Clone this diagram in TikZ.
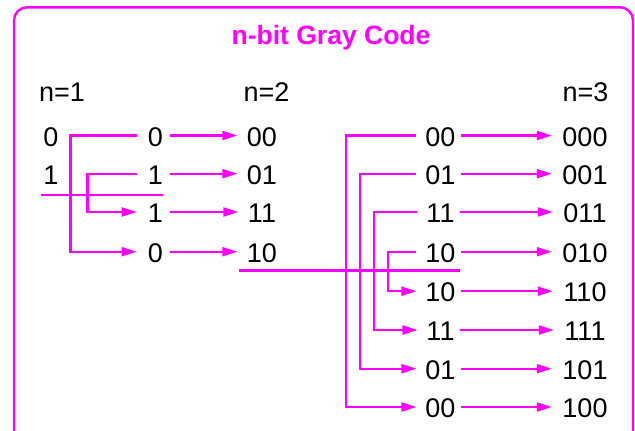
\documentclass[tikz,border=0pt]{standalone}
\usepackage{fontspec}
\setmainfont{Liberation Sans}
\usetikzlibrary{arrows.meta}
\definecolor{mag}{HTML}{FF00FF}
\begin{document}
\begin{tikzpicture}[x=1pt,y=-1pt,
  txt/.style={inner sep=0pt, font=\fontsize{27}{31}\selectfont, text=black},
  titlestyle/.style={inner sep=0pt, anchor=base, font=\fontsize{26.5}{30}\selectfont\bfseries, text=mag},
  conn/.style={draw=mag, line width=2.1pt},
  arr/.style={conn, -{Triangle[length=15pt,width=9pt]}},
  frame/.style={draw=mag, line width=2.4pt, rounded corners=13pt}]
\useasboundingbox (0,0) rectangle (635,431);
\clip (0,0) rectangle (635,431);
\draw[frame] (14,7.3) rectangle (633,460);
\node[titlestyle] (title) at (331,44.7) {n-bit Gray Code};
\node[txt] (n1) at (62,92.5) {n=1};
\node[txt] (n2) at (266.5,92.5) {n=2};
\node[txt] (n3) at (585.5,92.5) {n=3};
% column 1
\node[txt] (a0) at (51,136.8) {0};
\node[txt] (a1) at (51,175) {1};
% middle column 2
\node[txt] (b0) at (155.5,136.8) {0};
\node[txt] (b1) at (155.5,175) {1};
\node[txt] (b2) at (155.5,213.3) {1};
\node[txt] (b3) at (155.5,253) {0};
% column n=2
\node[txt] (c0) at (262,136.8) {00};
\node[txt] (c1) at (262,175) {01};
\node[txt] (c2) at (262,213.3) {11};
\node[txt] (c3) at (262,253) {10};
% middle column 3
\node[txt] (d0) at (440.5,136.8) {00};
\node[txt] (d1) at (440.5,175) {01};
\node[txt] (d2) at (440.5,213.3) {11};
\node[txt] (d3) at (440.5,253) {10};
\node[txt] (d4) at (440.5,292.5) {10};
\node[txt] (d5) at (440.5,331.3) {11};
\node[txt] (d6) at (440.5,370) {01};
\node[txt] (d7) at (440.5,408.3) {00};
% column n=3
\node[txt] (e0) at (585,136.8) {000};
\node[txt] (e1) at (585,175) {001};
\node[txt] (e2) at (585,213.3) {011};
\node[txt] (e3) at (585,253) {010};
\node[txt] (e4) at (585,292.5) {110};
\node[txt] (e5) at (585,331.3) {111};
\node[txt] (e6) at (585,370) {101};
\node[txt] (e7) at (585,408.3) {100};
% separators
\coordinate (u1a) at (40.7,195);
\coordinate (u1b) at (163,195);
\coordinate (u2a) at (239,270.5);
\coordinate (u2b) at (460,270.5);
\draw[conn] (u1a) -- (u1b);
\draw[conn] (u2a) -- (u2b);
% reflection brackets, n=2
\draw[arr] ([xshift=-11.2pt,yshift=1.3pt]b0.west) -- ++(-66.1,0) |- ([xshift=-11.2pt,yshift=1.3pt]b3.west);
\draw[arr] ([xshift=-11.2pt,yshift=1.3pt]b1.west) -- ++(-49.1,0) |- ([xshift=-11.2pt,yshift=1.3pt]b2.west);
% reflection brackets, n=3
\draw[arr] ([xshift=-8.8pt,yshift=1.3pt]d0.west) -- ++(-70.7,0) |- ([xshift=-8.8pt,yshift=1.3pt]d7.west);
\draw[arr] ([xshift=-8.8pt,yshift=1.3pt]d1.west) -- ++(-56.7,0) |- ([xshift=-8.8pt,yshift=1.3pt]d6.west);
\draw[arr] ([xshift=-8.8pt,yshift=1.3pt]d2.west) -- ++(-43.7,0) |- ([xshift=-8.8pt,yshift=1.3pt]d5.west);
\draw[arr] ([xshift=-8.8pt,yshift=1.3pt]d3.west) -- ++(-28.4,0) |- ([xshift=-8.8pt,yshift=1.3pt]d4.west);
% prefix arrows
\foreach \i in {0,1,2,3}{
  \draw[arr] ([xshift=6.5pt,yshift=1.3pt]b\i.east) -- ([xshift=-9.5pt,yshift=1.3pt]c\i.west);
}
\foreach \i in {0,...,7}{
  \draw[arr] ([xshift=5.5pt,yshift=1.3pt]d\i.east) -- ([xshift=-10.5pt,yshift=1.3pt]e\i.west);
}
\end{tikzpicture}
\end{document}
